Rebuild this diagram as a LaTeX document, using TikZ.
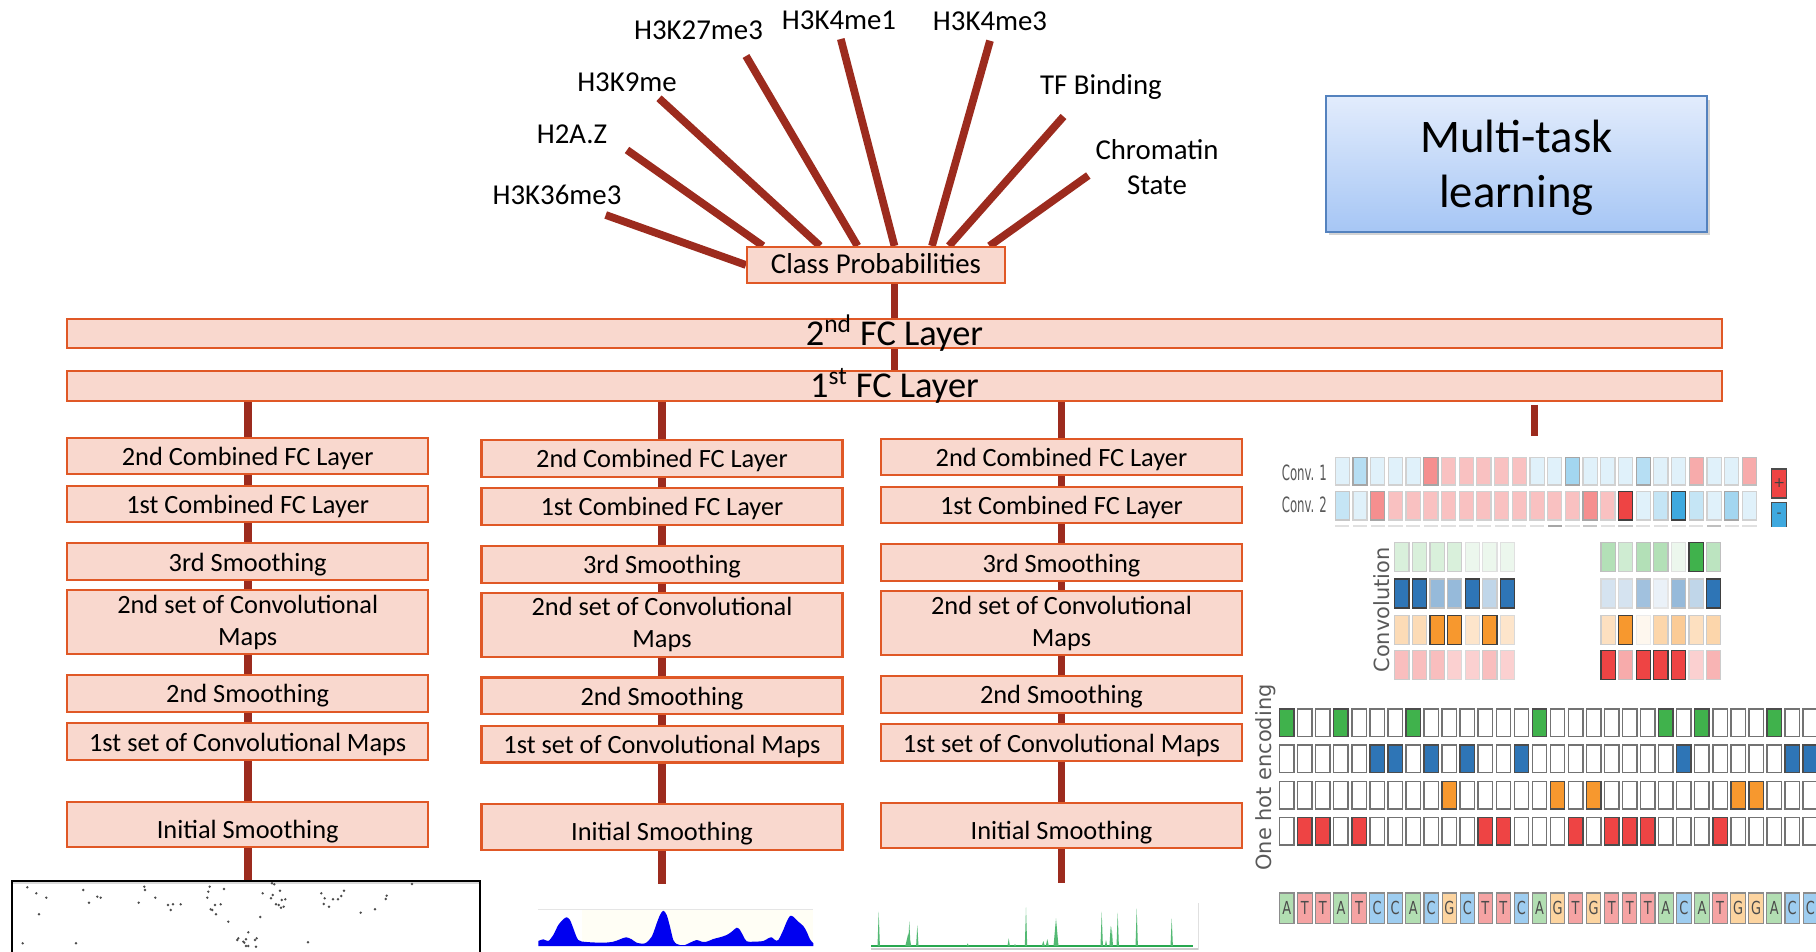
\documentclass[tikz,border=0pt]{standalone}
\usepackage{fontspec}
\setmainfont{Carlito}
\newfontfamily\dejavu{DejaVu Sans}
\newfontfamily\dejavucond{DejaVu Sans Condensed}
\usetikzlibrary{calc,backgrounds,shadows}

\definecolor{boxfill}{RGB}{249,216,206}
\definecolor{boxline}{RGB}{224,88,38}
\definecolor{wirered}{RGB}{156,43,30}
\definecolor{mtlTop}{RGB}{226,236,252}
\definecolor{mtlBot}{RGB}{166,198,245}
\definecolor{mtlLine}{RGB}{84,130,190}
\definecolor{nucA}{RGB}{64,178,76}
\definecolor{nucC}{RGB}{46,117,182}
\definecolor{nucG}{RGB}{247,152,46}
\definecolor{nucT}{RGB}{238,68,68}
\definecolor{seqA}{RGB}{178,222,178}
\definecolor{seqC}{RGB}{158,205,240}
\definecolor{seqG}{RGB}{252,212,160}
\definecolor{seqT}{RGB}{245,163,163}
\definecolor{wtBlue}{RGB}{63,169,223}
\definecolor{wtRed}{RGB}{238,68,68}
\definecolor{peakBlue}{RGB}{0,0,240}
\definecolor{peakGreen}{RGB}{40,168,80}

% one row of a weight grid: x0, y0, base colour, list of level/border
\newcommand\gridrow[4]{%
  \foreach \lv/\bd [count=\k from 0] in {#4}{%
    \filldraw[fill=#3!\lv!white, draw=black!\bd, line width=0.7pt]
      ({#1+17.6*\k},#2) rectangle ++(14.2,29);}}

\begin{document}
\begin{tikzpicture}[x=0.02cm, y=-0.02cm,
  netbox/.style={draw=boxline, fill=boxfill, line width=1.2pt, inner sep=0pt},
  colbox/.style={netbox, minimum width=7.22cm, font=\fontsize{15}{18}\selectfont, align=center},
  oneline/.style={text height=10.8pt, text depth=0pt},
  wire/.style={draw=wirered, line width=4.4pt},
  toplabel/.style={font=\fontsize{16.4}{20.4}\selectfont, anchor=base, align=center, inner sep=0pt},
  tinysans/.style={font=\dejavucond\fontsize{12}{13}\selectfont, text=black!65, inner sep=0pt},
  axislabel/.style={font=\dejavu\fontsize{11.9}{14}\selectfont, text=black!65, rotate=90, inner sep=0pt},
  seqletter/.style={font=\dejavucond\fontsize{10.2}{12}\selectfont, text=black!70, xscale=0.8, inner sep=0pt},
  cLB/.style={fill=wtBlue!16!white, draw=black!18},
  cB30/.style={fill=wtBlue!30!white, draw=black!22},
  cMB/.style={fill=wtBlue!38!white, draw=black!35},
  cB45/.style={fill=wtBlue!48!white, draw=black!35},
  cBB/.style={fill=wtBlue, draw=black!75},
  cPK/.style={fill=wtRed!33!white, draw=black!18},
  cPD/.style={fill=wtRed!45!white, draw=black!25},
  cSA/.style={fill=wtRed!60!white, draw=black!35},
  cRR/.style={fill=wtRed, draw=black!75},
]
\useasboundingbox (0,0) rectangle (1816,952);
\clip (0,0) rectangle (1816,952);

% ---------- task labels ----------
\node[toplabel] (l1) at (557,205) {H3K36me3};
\node[toplabel] (l2) at (572,144) {H2A.Z};
\node[toplabel] (l3) at (627,92) {H3K9me};
\node[toplabel] (l4) at (698.5,39.5) {H3K27me3};
\node[toplabel] (l5) at (839,29.5) {H3K4me1};
\node[toplabel] (l6) at (990,30.5) {H3K4me3};
\node[toplabel] (l7) at (1101,95) {TF Binding};
\node[toplabel] (l8) at (1157,195) {Chromatin\\State};

\coordinate (s1) at (605.7,215);
\coordinate (s2) at (627,150);
\coordinate (s3) at (659,98.3);
\coordinate (s4) at (746,56);
\coordinate (s5) at (840.8,39);
\coordinate (s6) at (990,40.7);
\coordinate (s7) at (1063.5,116.5);
\coordinate (s8) at (1088.3,175.5);

% ---------- shared layers ----------
\node[netbox, minimum width=5.16cm, minimum height=0.72cm,
      font=\fontsize{16.4}{20}\selectfont, text height=10.2pt, text depth=0pt]
  (cp) at (876,265) {Class Probabilities};
\node[netbox, minimum width=33.1cm, minimum height=0.58cm,
      font=\fontsize{20.7}{24}\selectfont, text height=13.8pt, text depth=0pt]
  (fc2) at (894.5,333.5) {2\textsuperscript{nd} FC Layer};
\node[netbox, minimum width=33.1cm, minimum height=0.6cm,
      font=\fontsize{20.7}{24}\selectfont, text height=12.8pt, text depth=0pt]
  (fc1) at (894.5,386) {1\textsuperscript{st} FC Layer};

\begin{scope}[on background layer]
  \draw[wire] (s1) -- (cp.west);
  \draw[wire] (s2) -- ($(cp.north west)+(17,0)$);
  \draw[wire] (s3) -- ($(cp.north west)+(74,0)$);
  \draw[wire] (s4) -- ($(cp.north west)+(111.5,0)$);
  \draw[wire] (s5) -- ($(cp.north west)+(148.5,0)$);
  \draw[wire] (s6) -- ($(cp.north west)+(186,0)$);
  \draw[wire] (s7) -- ($(cp.north west)+(203,0)$);
  \draw[wire] (s8) -- ($(cp.north west)+(243.5,0)$);
\end{scope}

\draw[wire] (cp.south -| fc2.north) -- (fc2.north);
\draw[wire] (fc2.south) -- (fc1.north);

% ---------- three input branches ----------
\coordinate (tail1) at (247.7,880.7);
\coordinate (tail2) at (662,884);
\coordinate (tail3) at (1061.5,882.7);
\foreach \c/\cx/\dy in {1/247.7/-1, 2/662/1.5, 3/1061.5/0}{
  \node[colbox, oneline, minimum height=0.732cm] (c\c-a) at (\cx,{457+\dy}) {2nd Combined FC Layer};
  \node[colbox, oneline, minimum height=0.732cm] (c\c-b) at (\cx,{505+\dy}) {1st Combined FC Layer};
  \node[colbox, oneline, minimum height=0.74cm] (c\c-c) at (\cx,{562.8+\dy}) {3rd Smoothing};
  \node[colbox, minimum height=1.286cm] (c\c-d) at (\cx,{623.2+\dy}) {2nd set of Convolutional\\Maps};
  \node[colbox, oneline, minimum height=0.734cm] (c\c-e) at (\cx,{694.3+\dy}) {2nd Smoothing};
  \node[colbox, oneline, minimum height=0.734cm] (c\c-f) at (\cx,{742.7+\dy}) {1st set of Convolutional Maps};
  \node[colbox, minimum height=0.912cm, text height=15.75pt, text depth=0pt] (c\c-g) at (\cx,{825.5+\dy}) {Initial Smoothing};
  \draw[wire] (fc1.south -| c\c-a.north) -- (c\c-a.north);
  \draw[wire] (c\c-a.south) -- (c\c-b.north);
  \draw[wire] (c\c-b.south) -- (c\c-c.north);
  \draw[wire] (c\c-c.south) -- (c\c-d.north);
  \draw[wire] (c\c-d.south) -- (c\c-e.north);
  \draw[wire] (c\c-e.south) -- (c\c-f.north);
  \draw[wire] (c\c-f.south) -- (c\c-g.north);
  \draw[wire] (c\c-g.south) -- (c\c-g.south |- tail\c);
}

% branch towards the sequence model
\coordinate (stubA) at (1534.5,405);
\coordinate (stubB) at (1534.5,436);
\draw[wire] (stubA) -- (stubB);

% ---------- multi-task box ----------
\node[minimum width=7.62cm, minimum height=2.72cm, top color=mtlTop, bottom color=mtlBot,
      draw=mtlLine, line width=0.9pt, align=center, inner sep=0pt,
      font=\fontsize{26.6}{31.5}\selectfont,
      drop shadow={opacity=0.35, shadow xshift=1.5pt, shadow yshift=-2pt}]
  (mtl) at (1516.5,164) {};
\node[align=center, inner sep=0pt, font=\fontsize{26.6}{31.5}\selectfont]
  (mtltext) at (1516.5,168) {Multi-task\\learning};

% ---------- sequence model: weight rows ----------
\node[tinysans, anchor=east, xscale=0.62] (cv1) at (1327,473) {Conv. 1};
\node[tinysans, anchor=east, xscale=0.62] (cv2) at (1327,505) {Conv. 2};
\foreach \s [count=\k from 0] in {cLB,cMB,cLB,cLB,cLB,cSA,cPK,cPK,cPK,cPK,cPK,cLB,cLB,cB45,cLB,cLB,cLB,cMB,cLB,cLB,cPD,cLB,cLB,cPD}
  \filldraw[\s, line width=0.7pt] ({1335.2+17.7*\k},457.3) rectangle ++(14.2,27.7);
\foreach \s [count=\k from 0] in {cB30,cLB,cSA,cPK,cPK,cPK,cPK,cPK,cPK,cPK,cPK,cPK,cPK,cPK,cSA,cPK,cRR,cLB,cB30,cBB,cB30,cLB,cB45,cLB}
  \filldraw[\s, line width=0.7pt] ({1335.2+17.7*\k},491.7) rectangle ++(14.2,28.3);
\foreach \g [count=\k from 0] in {12,12,12,12,12,12,12,12,12,12,12,12,35,12,22,12,22,12,12,12,12,25,12,12}
  \fill[black!\g] ({1335.2+17.7*\k},525.4) rectangle ++(14.2,1.8);

\filldraw[fill=wtRed, draw=black!70, line width=0.7pt] (1771.7,469) rectangle (1786.6,498);
\fill[wtBlue] (1771.7,502.7) rectangle (1786.6,527);
\draw[black!70, line width=0.7pt] (1771.7,527) |- (1786.6,502.7) -- (1786.6,527);
\node[font=\dejavu\fontsize{8}{9}\selectfont, text=black!75, inner sep=0pt] (plus) at (1779.2,483.5) {+};
\node[font=\dejavu\fontsize{8}{9}\selectfont, text=black!75, inner sep=0pt] (minus) at (1779.2,515) {-};

% ---------- convolution filters ----------
\node[axislabel] (convlab) at (1381.5,610) {Convolution};
\gridrow{1394.8}{542.7}{nucA}{20/20,20/20,20/20,20/20,10/12,10/12,10/12}
\gridrow{1394.8}{579}{nucC}{100/75,100/75,50/25,50/25,100/75,30/20,100/75}
\gridrow{1394.8}{615.5}{nucG}{35/20,35/20,100/75,100/75,25/15,100/75,25/15}
\gridrow{1394.8}{650.5}{nucT}{35/20,35/20,35/20,25/15,25/15,35/20,25/15}
\gridrow{1601}{542.7}{nucA}{40/25,25/20,40/25,40/25,10/12,100/75,35/25}
\gridrow{1601}{579}{nucC}{20/15,20/15,45/25,10/10,50/25,30/20,100/75}
\gridrow{1601}{615.5}{nucG}{30/20,100/75,8/8,40/20,50/25,30/20,40/20}
\gridrow{1601}{650.5}{nucT}{100/75,45/25,100/75,100/75,100/75,25/15,40/20}

% ---------- one hot encoding of the sequence ----------
\node[axislabel] (ohlab) at (1266,777.5) {One hot encoding};
\foreach \b/\ry [count=\k from 0] in {A/709,T/817.3,T/817.3,A/709,T/817.3,C/745,C/745,A/709,C/745,G/781.5,C/745,T/817.3,T/817.3,C/745,A/709,G/781.5,T/817.3,G/781.5,T/817.3,T/817.3,T/817.3,A/709,C/745,A/709,T/817.3,G/781.5,G/781.5,A/709,C/745,C/745}{
  \foreach \yy in {709,745,781.5,817.3}
    \filldraw[fill=white, draw=black!55, line width=0.8pt] ({1279.6+18.05*\k},\yy) rectangle ++(14.4,27.7);
  \filldraw[fill=nuc\b, draw=black!70, line width=0.8pt] ({1279.6+18.05*\k},\ry) rectangle ++(14.4,27.7);
  \filldraw[fill=seq\b, draw=black!45, line width=0.6pt] ({1279.6+18.05*\k},893) rectangle ++(14.4,30.3);
  \node[seqletter] (nt\k) at ({1286.8+18.05*\k},908.2) {\b};
}

% ---------- input tracks ----------
% scatter track
\draw[black, line width=1.2pt] (11.7,960) |- (480,880.7) -- (480,960);
\draw[black!15, line width=0.6pt] (13,883) -- (479,883);
\foreach \p in {(27.3,887.3),(36.3,893.3),(46.3,897.7),(39,914.3),(22.7,943.3),(83.3,890),(89,902.7),(97.3,896.7),(100.7,897.7),(76,943.3),(144.3,886.7),(145,890),(138.7,902.7),(155.3,897.7),(168,905),(173,904.3),(180.7,904.3),(170.7,910),(209.7,886.7),(208.3,891.7),(207.3,897.7),(215,905),(220.7,904.3),(210.7,909.3),(212.3,910),(216,914.3),(224,889),(228.3,921.7),(248.3,932.3),(238.3,938.3),(237.3,940),(243.3,941.7),(246,939.3),(256.7,938.3),(255,940),(246,946),(248.3,946),(256,946.7),(244.3,942.7),(260.3,917),(262.7,893.3),(272,883.3),(274.3,884.3),(280,890.7),(272.7,895),(271,898.3),(281.7,900),(285.3,899.3),(276,904.3),(278.7,905),(281,907.7),(283.7,906.7),(321.3,893.3),(324.7,898.3),(333,899.3),(338,899.3),(341.3,896),(344,890.7),(323.7,904),(329,906.7),(360.7,912.7),(375,909.3),(385.7,899),(386.7,895.7),(412,884),(308,942.3)}
  \fill[black!70] \p circle (0.75pt);

% smooth signal track
\fill[yellow!4] (581.7,909.3) rectangle (813.3,945.7);
\draw[black!10, line width=0.5pt] (538.3,909.3) -- (813.3,909.3);
\fill[peakBlue] (538.3,946) -- plot[smooth, tension=0.5] coordinates {(538.3,941) (543.3,939.3) (548.3,941) (553.3,935) (558.3,925) (563.3,919.3) (566.7,917.3) (570,920) (573.3,928.3) (578.3,940) (586.7,942) (603.3,942.7) (613.3,941.7) (620,939.3) (626,937.3) (631.7,939.3) (636.7,942.7) (645,943.3) (651.7,936.7) (656.7,923.3) (660,915) (663.3,910.7) (666.7,915) (670,926.7) (673.3,940) (676.7,944) (680,945) (685,945) (690,942.7) (696.7,940) (701.7,941.7) (706.7,941.7) (713.3,939) (720,937.3) (726.7,935) (731.7,931.7) (736.7,927.7) (740,930) (743.3,936) (746.7,941.3) (753.3,941.7) (763.3,941) (768.3,938.3) (771.7,937.3) (775,940) (778.3,940) (783.3,930) (786.7,921.7) (790,916) (793.3,916.7) (798.3,921.7) (803.3,926) (806.7,931.7) (810,939.3) (813.3,943.3)} -- (813.3,946) -- cycle;

% spiky signal track
\draw[black!12, line width=0.6pt] (1198.3,903) -- (1198.3,950);
\draw[black!20, line width=0.6pt] (871,949) -- (1198.3,949);
\draw[peakGreen, line width=0.7pt] (871,946) -- (1193,946);
\foreach \sx/\sy/\sw in {878.7/911.7/1.2, 908.3/933.3/3, 909.3/921/1.2, 917.3/925/1.2, 967.7/943.3/1.2, 1008.7/938.3/1.2, 1015/944/1.2, 1026/907.3/1.2, 1043.3/941/1.5, 1047.3/939/1.5, 1056/918.3/2.5, 1101.7/911.7/1.2, 1106/940/1.2, 1110.7/926/1.3, 1111.7/926.7/1.3, 1117.7/912.7/1.2, 1136.7/908.3/1.2, 1171.7/918.3/1.2}
  \fill[peakGreen!80] ({\sx-\sw},946) -- (\sx,\sy) -- ({\sx+\sw},946) -- cycle;

\end{tikzpicture}
\end{document}
